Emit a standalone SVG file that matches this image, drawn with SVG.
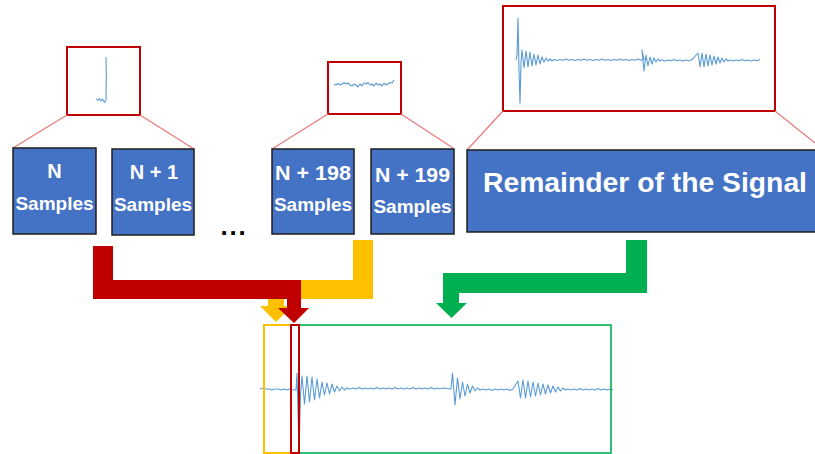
<svg xmlns="http://www.w3.org/2000/svg" width="815" height="454" viewBox="0 0 815 454">
<style>
.box{fill:#4472C4;stroke:#1e1e1e;stroke-width:1.5}
.lbl{font-family:"Liberation Sans",Arial,sans-serif;font-weight:bold;fill:#fff;text-anchor:middle}
.zoom{fill:#fff;stroke:#C00000;stroke-width:2}
.lead{stroke:#E8787A;stroke-width:1.2;fill:none}
.sig{fill:none;stroke:#5B9BD5;stroke-width:1.1;stroke-linejoin:round}
</style>
<rect width="815" height="454" fill="#fff"/>
<g id="zoom-n">
<rect class="zoom" x="67" y="47" width="73" height="68"/>
<path class="sig" d="M106,57 L106.3,75 L106,100 L104.5,102.5 L102.5,99 L101,101 L99.5,98.5 L98,100.5 L96.5,98.5"/>
</g>
<g id="zoom-n198">
<rect class="zoom" x="328" y="62" width="73" height="52"/>
<path class="sig" d="M334,84 L336,85 L338,83.5 L340,85 L342,84 L344,82.5 L346,84 L348,83 L350,85 L352,86 L354,84 L356,85 L358,87 L360,84 L362,86 L364,83 L366,84 L368,82.5 L370,85 L372,84 L374,86 L376,83 L378,85 L380,84 L382,86 L384,83 L386,85 L388,84 L390,82.5 L392,83 L394,80"/>
</g>
<g id="zoom-remainder">
<rect class="zoom" x="503" y="6" width="272" height="105"/>
<path class="sig" d="M516,60 L517,55 L518,18 L519,70 L520,103 L521,62 L522,50 L524,68 L526,51 L528,67 L530,52 L532,66 L534,54 L536,65 L538,55 L540,64 L542,57 L544,62 L546,58 L548,61 L550,59 L552,61 L554,59.5 l3,1 3,-1 3,0.8 3,-1.2 3,1.2 3,-0.8 l3,1 3,-1 3,0.8 3,-1.2 3,1.2 3,-0.8 l3,1 3,-1 3,0.8 3,-1.2 3,1.2 3,-0.8 l3,1 3,-1 3,0.8 3,-1.2 3,1.2 3,-0.8 l3,1 3,-1 3,0.8 3,-1.2 3,1.2 3,-0.8 L642,50 L644,71 L646,55 L648,66 L650,57 L652,64 L654,58 L656,62 L658,59 L660,61 L662,60 l3,1 3,-1 3,0.8 3,-1.2 3,1.2 3,-0.8 l3,1 3,-1 3,0.8 3,-1.2 L698,53 L700,67 L702,53 L704,67 L706,54 L708,66 L710,55 L712,65 L714,56 L716,64 L718,57 L720,63 L722,58 L724,62 L726,59 L728,61 L730,60 l3,1 3,-1 3,0.8 3,-1.2 3,1.2 3,-0.8 l3,1 3,-1 3,0.8 3,-1.2"/>
</g>
<g id="leads">
<line class="lead" x1="67" y1="115" x2="13" y2="148"/>
<line class="lead" x1="140" y1="115" x2="194" y2="149"/>
<line class="lead" x1="328" y1="114" x2="272" y2="149"/>
<line class="lead" x1="401" y1="114" x2="453" y2="148"/>
<line class="lead" x1="503" y1="111" x2="467" y2="150"/>
<line class="lead" x1="775" y1="111" x2="815" y2="143"/>
</g>
<g id="box-n">
<rect class="box" x="13" y="148" width="83" height="86"/>
<text class="lbl" x="54.5" y="178" font-size="20">N</text>
<text class="lbl" x="54.5" y="210" font-size="19">Samples</text>
</g>
<g id="box-n1">
<rect class="box" x="112" y="149" width="82" height="86"/>
<text class="lbl" x="154" y="179" font-size="20">N + 1</text>
<text class="lbl" x="153" y="211" font-size="19">Samples</text>
</g>
<g id="dots">
<text x="220.4" y="235" font-family="'Liberation Sans',Arial,sans-serif" font-weight="bold" font-size="26" letter-spacing="1.8" fill="#000">...</text>
</g>
<g id="box-n198">
<rect class="box" x="272" y="149" width="82" height="85"/>
<text class="lbl" x="313" y="180" font-size="20" textLength="76" lengthAdjust="spacingAndGlyphs">N + 198</text>
<text class="lbl" x="313" y="211" font-size="19">Samples</text>
</g>
<g id="box-n199">
<rect class="box" x="371" y="149" width="83" height="85"/>
<text class="lbl" x="412.5" y="182" font-size="20" textLength="75" lengthAdjust="spacingAndGlyphs">N + 199</text>
<text class="lbl" x="412.5" y="213" font-size="19">Samples</text>
</g>
<g id="box-remainder">
<rect class="box" x="467" y="150" width="352" height="82"/>
<text class="lbl" x="645" y="192" font-size="27" textLength="324" lengthAdjust="spacingAndGlyphs">Remainder of the Signal</text>
</g>
<g id="connectors">
<polygon fill="#FFC000" points="353,240 373,240 373,299 284,299 284,306 292,306 276,322 260,306 268,306 268,280 353,280"/>
<polygon fill="#C00000" points="93,246 113,246 113,280 301,280 301,308 309,308 294,323 278,308 287,308 287,299 93,299"/>
<polygon fill="#00B050" points="626,240 647,240 647,293 459,293 459,303 467,303 451.5,318 436,303 443,303 443,273 626,273"/>
</g>
<g id="output-signal">
<path class="sig" d="M260,389 l3,-1 3,1 3,0 3,1 3,-1 3,0 3,1 3,-1 3,1 3,-1 3,1 3,0 L297,373 L299,452 L300.5,395 L302,376 L304.5,404 L307,376 L309.5,402 L312,377 L314.5,400 L317,379 L319.5,398 L322,382 L324.5,395 L327,383 L329.5,394 L332,384 L334.5,392 L337,386 L339.5,391 L342,387 L344.5,390 L347,388 l3,1 3,-1 3,1 3,-1.5 3,1.5 3,-1 l3,1 3,-1 3,1 3,-1.5 3,1.5 3,-1 l3,1 3,-1 3,1 3,-1.5 3,1.5 3,-1 l3,1 3,-1 3,1 3,-1.5 3,1.5 3,-1 l3,1 3,-1 3,1 3,-1.5 3,1.5 3,-1 l3,1 3,-1 L451,389 L452.5,373 L455,405 L457.5,378 L460,399 L462.5,382 L465,396 L467.5,384 L470,393 L472.5,386 L475,391 L477.5,388 L480,390 l3,-1 3,1 3,-1 3,1.5 3,-1.5 3,1 l3,-1 3,1 3,-1 3,1.5 3,-1.5 L518,381 L520.5,398 L523,380 L525.5,398 L528,381 L530.5,397 L533,382 L535.5,396 L538,383 L540.5,395 L543,384 L545.5,394 L548,385 L550.5,393 L553,386 L555.5,392 L558,387 L560.5,391 L563,388 L565.5,390 L568,389 l3,1 3,-1 3,1 3,-1.5 3,1.5 3,-1 l3,1 3,-1 3,1 3,-1.5 3,1.5 3,-1 l3,1 3,-1 3,1"/>
</g>
<g id="window-yellow"><rect x="264" y="325" width="27" height="128" fill="none" stroke="#FFC000" stroke-width="2"/></g>
<g id="window-green"><rect x="299" y="325" width="312" height="128" fill="none" stroke="#00B050" stroke-width="1.6"/></g>
<g id="window-red"><rect x="291" y="325" width="8" height="128" fill="none" stroke="#C00000" stroke-width="2"/></g>
</svg>
